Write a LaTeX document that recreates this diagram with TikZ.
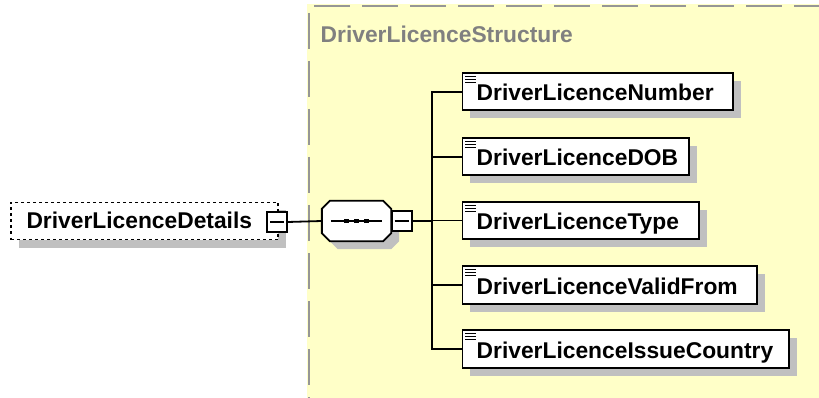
\documentclass[tikz,border=0pt]{standalone}
\usepackage{fontspec}
\setmainfont{Liberation Sans}
\usetikzlibrary{shadows}
\definecolor{bgyellow}{HTML}{FFFFC8}
\definecolor{shadowgray}{HTML}{C0C0C0}
\definecolor{framegray}{HTML}{969696}
\definecolor{labelgray}{HTML}{808080}
\newcommand\octpath[3]{%
  ([shift={(#2+8pt,#3)}]#1.north west) -- ([shift={(#2-8pt,#3)}]#1.north east) --
  ([shift={(#2,#3-8pt)}]#1.north east) -- ([shift={(#2,#3+8pt)}]#1.south east) --
  ([shift={(#2-8pt,#3)}]#1.south east) -- ([shift={(#2+8pt,#3)}]#1.south west) --
  ([shift={(#2,#3+8pt)}]#1.south west) -- ([shift={(#2,#3-8pt)}]#1.north west) -- cycle}
\tikzset{
  shadowed/.style={general shadow={fill=shadowgray, draw=none, shadow xshift=8pt, shadow yshift=-8pt}},
  box/.style={draw=black, line width=1.9pt, fill=white, minimum height=37pt, inner sep=0pt, shadowed},
  elem/.style={box, anchor=west,
    path picture={
      \foreach \k in {3.5,6.5,9.5}{
        \draw[line width=1.1pt] ([shift={(3pt,-\k pt)}]path picture bounding box.north west) -- ++(11pt,0);
      }
    }},
  optbox/.style={box, dash pattern=on 3pt off 3pt, line width=1.6pt},
  txt/.style={font=\bfseries\fontsize{22.8}{26}\selectfont, inner sep=0pt, anchor=base west},
  minusbox/.style={draw=black, line width=1.6pt, fill=white, minimum size=20pt, inner sep=0pt,
    path picture={\draw[line width=1.5pt] ([xshift=3pt]path picture bounding box.west) -- ([xshift=-3pt]path picture bounding box.east);}},
  conn/.style={draw=black, line width=1.8pt},
  seqframe/.style={draw=none, minimum width=69pt, minimum height=40pt, inner sep=0pt},
  frameline/.style={draw=framegray, line width=2pt, dash pattern=on 36pt off 12pt}
}
\begin{document}
\begin{tikzpicture}[x=1pt,y=-1pt]
\useasboundingbox (0,0) rectangle (819,398);
% complex type background
\fill[bgyellow] (307,4) rectangle (819,398);
\draw[frameline] (314,6) -- (819,6);
\draw[frameline] (309,13) -- (309,398);
\node[font=\bfseries\fontsize{22.8}{26}\selectfont, text=labelgray, inner sep=0pt, anchor=base west] (stlabel) at (320.5,42.5) {DriverLicenceStructure};

% parent element
\node[optbox, minimum width=267pt] (det) at (144.5,221) {};
\node[txt] (dettxt) at (26.3,229) {DriverLicenceDetails};
\node[minusbox] (detm) at (277,222) {};

% sequence compositor
\node[seqframe] (seq) at (356.5,221) {};
\fill[shadowgray] \octpath{seq}{8pt}{-8pt};
\filldraw[fill=white, draw=black, line width=1.9pt, line join=miter] \octpath{seq}{0pt}{0pt};
\draw[line width=1.5pt] ([xshift=9pt]seq.west) -- ([xshift=-9pt]seq.east);
\foreach \dx in {-10,0,10}{
  \fill ([shift={(\dx pt-2.3pt,-2.3pt)}]seq.center) rectangle ([shift={(\dx pt+2.3pt,2.3pt)}]seq.center);
}
\node[minusbox] (seqm) at (401.7,221) {};
\coordinate (bus) at (431.7,221);

% children
\node[elem, minimum width=270.5pt, minimum height=37.5pt] (c1) at (461.5,91.7) {};
\node[elem, minimum width=226.5pt, minimum height=37.5pt] (c2) at (461.5,156.7) {};
\node[elem, minimum width=236.5pt, minimum height=37.5pt] (c3) at (461.5,220.5) {};
\node[elem, minimum width=294.5pt, minimum height=37.5pt] (c4) at (461.5,285) {};
\node[elem, minimum width=326.5pt, minimum height=37.5pt] (c5) at (461.5,349) {};
\node[txt] (t1) at (476.5,100.7) {DriverLicenceNumber};
\node[txt] (t2) at (476.5,165.7) {DriverLicenceDOB};
\node[txt] (t3) at (476.5,229.5) {DriverLicenceType};
\node[txt] (t4) at (476.5,294) {DriverLicenceValidFrom};
\node[txt] (t5) at (476.5,358) {DriverLicenceIssueCountry};

% connectors
\draw[conn] (detm.east) -- (seq.west);
\draw[conn] (seqm.east) -- (bus);
\draw[conn] (c1.west) -- (bus |- c1.west) -- (bus |- c5.west) -- (c5.west);
\draw[conn] (bus |- c2.west) -- (c2.west);
\draw[conn] (bus |- c3.west) -- (c3.west);
\draw[conn] (bus |- c4.west) -- (c4.west);
\end{tikzpicture}
\end{document}
